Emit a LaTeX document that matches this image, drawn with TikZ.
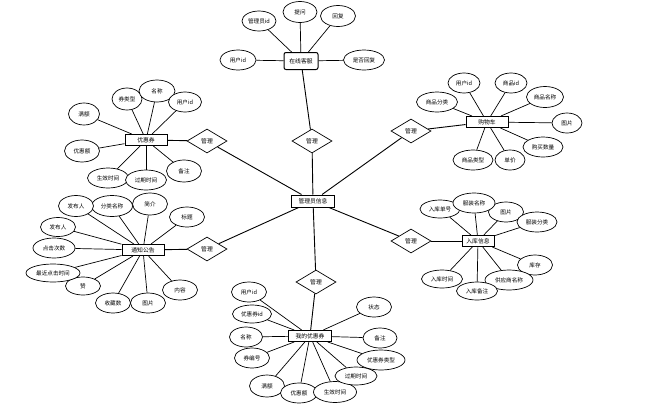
\documentclass[tikz,border=0pt]{standalone}
\usepackage{fontspec}
\newfontfamily\cjk{Noto Sans CJK SC}
\usetikzlibrary{shapes.geometric}
\tikzset{
  attr/.style={draw, ellipse, line width=0.7pt, inner sep=0pt, fill=white, font=\cjk\fontsize{5.6}{6}\selectfont},
  ent/.style={draw, rectangle, line width=1pt, inner sep=0pt, fill=white, minimum height=11, font=\cjk\fontsize{5.8}{6}\selectfont},
  rel/.style={draw, diamond, line width=0.7pt, inner sep=0pt, fill=white, minimum width=40, minimum height=24, font=\cjk\fontsize{5.8}{6}\selectfont},
  ln/.style={line width=0.7pt},
  lnk/.style={line width=0.9pt}
}
\newcommand{\att}[6]{\node[attr, minimum width=#4, minimum height=#5] (#1) at (#2,#3) {#6};}
\begin{document}
\begin{tikzpicture}[x=1pt,y=-1pt]
\useasboundingbox (0,0) rectangle (653,410);
% entities
\node[ent, minimum width=43, minimum height=12] (c) at (313,201) {管理员信息};
\node[ent, minimum width=34, minimum height=17, rounded corners=2pt] (kf) at (301,61) {在线客服};
\node[ent, minimum width=42] (gw) at (487,122) {购物车};
\node[ent, minimum width=42] (yh) at (146,140) {优惠券};
\node[ent, minimum width=42] (tz) at (143,250) {通知公告};
\node[ent, minimum width=32] (rk) at (478,241) {入库信息};
\node[ent, minimum width=43] (wd) at (310,336) {我的优惠券};
% relations
\node[rel] (r1) at (312,141) {管理};
\node[rel] (r2) at (411,131) {管理};
\node[rel] (r3) at (207,141) {管理};
\node[rel] (r4) at (207,249) {管理};
\node[rel] (r5) at (411,241) {管理};
\node[rel] (r6) at (316,282) {管理};
\foreach \r/\e in {r1/kf,r2/gw,r3/yh,r4/tz,r5/rk,r6/wd}{
  \draw[lnk] (c) -- (\r);
  \draw[lnk] (\r) -- (\e);
}
% 在线客服
\att{k1}{259}{21}{34}{20}{管理员id}
\att{k2}{300}{12}{34}{21}{提问}
\att{k3}{338}{16}{35}{21}{回复}
\att{k4}{238}{60}{36}{20}{用户id}
\att{k5}{364}{60}{41}{20}{是否回复}
\foreach \a in {k1,k2,k3,k4,k5}{\draw[ln] (\a) -- (kf);}
% 购物车
\att{g1}{464}{83}{32}{20}{用户id}
\att{g2}{511}{83}{32}{20}{商品id}
\att{g3}{545}{97}{37}{21}{商品名称}
\att{g4}{437}{102}{41}{20}{商品分类}
\att{g5}{567}{123}{30}{20}{图片}
\att{g6}{543}{147}{40}{20}{购买数量}
\att{g7}{510}{160}{30}{20}{单价}
\att{g8}{473}{160}{40}{20}{商品类型}
\foreach \a in {g1,g2,g3,g4,g5,g6,g7,g8}{\draw[ln] (\a) -- (gw);}
% 优惠券
\att{y1}{84}{114}{31}{22}{满额}
\att{y2}{127}{99}{30}{22}{券类型}
\att{y3}{157}{91}{36}{22}{名称}
\att{y4}{185}{102}{33}{20}{用户id}
\att{y5}{82}{151}{35}{22}{优惠额}
\att{y6}{108}{178}{41}{20}{生效时间}
\att{y8}{184}{171}{35}{22}{备注}
\att{y7}{146}{180}{41}{20}{过期时间}
\foreach \a in {y1,y2,y3,y4,y5,y6,y7,y8}{\draw[ln] (\a) -- (yh);}
% 通知公告
\att{t2}{112}{206}{41}{21}{分类名称}
\att{t1}{76}{206}{35}{21}{发布人}
\att{t3}{150}{204}{35}{22}{简介}
\att{t4}{187}{217}{35}{20}{标题}
\att{t5}{58}{227}{35}{19}{发布人}
\att{t6}{54}{248}{42}{20}{点击次数}
\att{t8}{83}{286}{35}{18}{赞}
\att{t7}{53}{273}{54}{18}{最近点击时间}
\att{t9}{113}{303}{35}{20}{收藏数}
\att{t10}{148}{303}{35}{20}{图片}
\att{t11}{180}{290}{35}{20}{内容}
\foreach \a in {t1,t2,t3,t4,t5,t6,t7,t8,t9,t10,t11}{\draw[ln] (\a) -- (tz);}
% 入库信息
\att{q1}{440}{209}{40}{18}{入库单号}
\att{q3}{506}{212}{35}{20}{图片}
\att{q2}{474}{203}{42}{20}{服装名称}
\att{q4}{537}{222}{40}{20}{服装分类}
\att{q5}{535}{265}{35}{20}{库存}
\att{q8}{442}{279}{41}{18}{入库时间}
\att{q6}{509}{280}{48}{20}{供应商名称}
\att{q7}{477}{291}{41}{18}{入库备注}
\foreach \a in {q1,q2,q3,q4,q5,q6,q7,q8}{\draw[ln] (\a) -- (rk);}
% 我的优惠券
\att{w1}{249}{292}{35}{20}{用户id}
\att{w2}{252}{314}{39}{18}{优惠券id}
\att{w3}{246}{337}{33}{20}{名称}
\att{w4}{252}{358}{35}{20}{券编号}
\att{w5}{267}{386}{35}{22}{满额}
\att{w6}{299}{393}{37}{20}{优惠额}
\att{w7}{335}{392}{43}{21}{生效时间}
\att{w8}{356}{376}{42}{18}{过期时间}
\att{w9}{381}{360}{48}{20}{优惠券类型}
\att{w10}{380}{338}{34}{20}{备注}
\att{w11}{374}{307}{35}{20}{状态}
\foreach \a in {w1,w2,w3,w4,w5,w6,w7,w8,w9,w10,w11}{\draw[ln] (\a) -- (wd);}
\end{tikzpicture}
\end{document}
